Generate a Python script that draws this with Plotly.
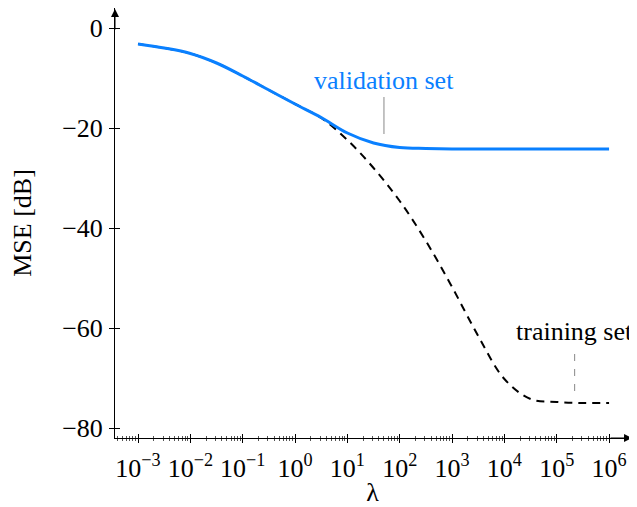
import numpy as np
import plotly.graph_objects as go

# ---- data ----
lam = [1e-3, 10**-2.5, 1e-2, 10**-1.5, 1e-1, 10**-0.5, 1e0, 10**0.5, 1e1, 10**1.5,
       1e2, 10**2.5, 1e3, 10**3.5, 1e4, 10**4.5, 1e5, 10**5.5, 1e6]
mse_validation = [-3.2, -4.0, -5.1, -7.0, -9.6, -12.4, -15.2, -17.9, -21.0, -23.0,
                  -23.9, -24.1, -24.2, -24.2, -24.2, -24.2, -24.2, -24.2, -24.2]
mse_training = [-3.2, -4.0, -5.1, -7.0, -9.6, -12.4, -15.2, -18.0, -22.4, -28.0,
                -34.6, -42.6, -51.8, -61.6, -70.2, -74.2, -74.8, -75.0, -75.0]

x_tick_vals = [1e-3, 1e-2, 1e-1, 1e0, 1e1, 1e2, 1e3, 1e4, 1e5, 1e6]
x_tick_labels = ["10<sup>−3</sup>", "10<sup>−2</sup>", "10<sup>−1</sup>", "10<sup>0</sup>",
                 "10<sup>1</sup>", "10<sup>2</sup>", "10<sup>3</sup>", "10<sup>4</sup>",
                 "10<sup>5</sup>", "10<sup>6</sup>"]
y_tick_vals = [0, -20, -40, -60, -80]

label_validation = "validation set"
label_training = "training set"

# ---- styling ----
FONT = "Liberation Serif"
FS = 26
BLUE = "#0a80ff"
X_RANGE = [-3.44, 6.40]
Y_RANGE = [-82, 4]

minor_vals = [m * 10.0**k for k in range(-4, 7) for m in range(2, 10)
              if X_RANGE[0] <= np.log10(m * 10.0**k) <= X_RANGE[1]]

fig = go.Figure()
fig.add_trace(go.Scatter(x=lam, y=mse_training, mode="lines", line_shape="spline",
                         line=dict(color="black", width=2, dash="8px,6px"),
                         showlegend=False, xaxis="x", yaxis="y"))
fig.add_trace(go.Scatter(x=lam, y=mse_validation, mode="lines", line_shape="spline",
                         line=dict(color=BLUE, width=3),
                         showlegend=False, xaxis="x2", yaxis="y2"))

common_x = dict(type="log", range=X_RANGE, showgrid=False, zeroline=False,
                tickmode="array", tickvals=x_tick_vals, automargin=False)
common_y = dict(range=Y_RANGE, showgrid=False, zeroline=False,
                tickmode="array", tickvals=y_tick_vals, automargin=False)

fig.update_layout(
    width=629, height=499,
    margin=dict(l=107, r=7, t=0, b=69, autoexpand=False),
    paper_bgcolor="white", plot_bgcolor="white",
    font=dict(family=FONT, size=FS, color="black"),
    xaxis=dict(**common_x, ticktext=x_tick_labels, ticks="outside", ticklen=4,
               tickcolor="black", tickwidth=1,
               showline=True, linecolor="black", linewidth=1,
               minor=dict(tickmode="array", tickvals=minor_vals, ticks="outside",
                          ticklen=2, tickcolor="#555", tickwidth=1),
               tickfont=dict(family=FONT, size=FS), ticklabelstandoff=3,
               title=dict(text="λ", standoff=6, font=dict(family=FONT, size=FS)),
               anchor="y"),
    xaxis2=dict(**common_x, overlaying="x", anchor="y2", side="bottom",
                showticklabels=False, ticks="inside", ticklen=4,
                tickcolor="black", tickwidth=1, showline=False,
                minor=dict(tickmode="array", tickvals=minor_vals, ticks="inside",
                           ticklen=2, tickcolor="#555", tickwidth=1)),
    yaxis=dict(**common_y, ticks="outside", ticklen=5, tickcolor="black", tickwidth=1,
               showline=True, linecolor="black", linewidth=1,
               tickfont=dict(family=FONT, size=FS), ticklabelstandoff=1,
               title=dict(text="MSE [dB]", standoff=27, font=dict(family=FONT, size=FS)),
               anchor="x"),
    yaxis2=dict(**common_y, overlaying="y", anchor="x2", side="left",
                showticklabels=False, ticks="inside", ticklen=5,
                tickcolor="black", tickwidth=1, showline=False),
)

# axis arrows
fig.add_annotation(xref="paper", yref="paper", x=1.004, y=0, ax=-22, ay=0,
                   axref="pixel", ayref="pixel", text="", showarrow=True,
                   font=dict(size=1), borderpad=0,
                   arrowhead=2, arrowsize=1.6, arrowwidth=1, arrowcolor="black")
fig.add_annotation(xref="paper", yref="paper", x=0, y=1.0, ax=0, ay=22,
                   axref="pixel", ayref="pixel", text="", showarrow=True,
                   font=dict(size=1), borderpad=0,
                   arrowhead=2, arrowsize=1.6, arrowwidth=1, arrowcolor="black")

# labels with pins
VAL_X, TRN_X = 50, 2.2e5
fig.add_annotation(x=np.log10(VAL_X), y=-10.4, xref="x", yref="y", text=label_validation,
                   showarrow=False, font=dict(family=FONT, size=FS, color=BLUE))
fig.add_shape(type="line", xref="x", yref="y", x0=VAL_X, x1=VAL_X, y0=-13.8, y1=-21.2,
              line=dict(color="#888", width=1))
fig.add_annotation(x=np.log10(TRN_X), y=-60.6, xref="x", yref="y", text=label_training,
                   showarrow=False, font=dict(family=FONT, size=FS, color="black"))
fig.add_shape(type="line", xref="x", yref="y", x0=TRN_X, x1=TRN_X, y0=-65.2, y1=-72.8,
              line=dict(color="#888", width=1, dash="7px,8px"))

fig.write_html("out.html")
